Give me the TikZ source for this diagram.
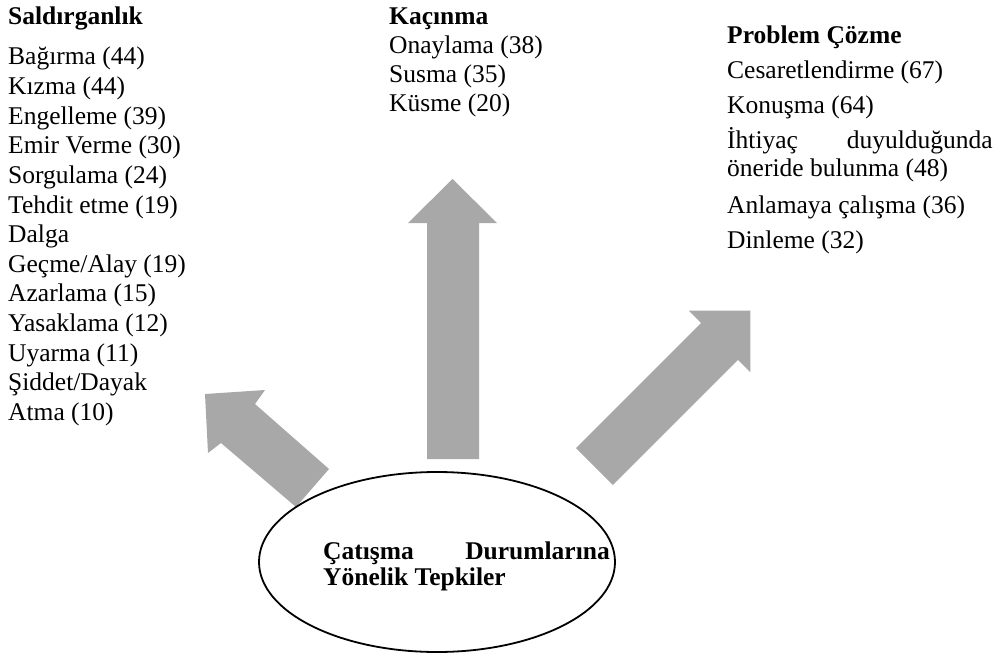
\documentclass[tikz,border=0pt]{standalone}
\usepackage{fontspec}
\setmainfont{Liberation Serif}
\usetikzlibrary{shapes.geometric}
\definecolor{arrowgray}{RGB}{168,168,168}
\tikzset{
  txt/.style={anchor=base west, inner sep=0pt, font=\fontsize{25.5}{29}\selectfont},
  txtr/.style={anchor=base east, inner sep=0pt, font=\fontsize{25.5}{29}\selectfont},
  head/.style={txt, font=\fontsize{25.5}{29}\selectfont\bfseries},
  headr/.style={txtr, font=\fontsize{25.5}{29}\selectfont\bfseries},
  blockarrow/.style={fill=arrowgray, draw=none},
  centre/.style={draw=black, line width=1.8pt, ellipse, minimum width=356pt, minimum height=180pt, inner sep=0pt}
}
\begin{document}
\begin{tikzpicture}[x=1pt,y=-1pt]
\useasboundingbox (0,0) rectangle (996,658);
% left column
\node[head] (sH) at (8,25) {Saldırganlık};
\foreach \t [count=\i from 0] in {Bağırma (44),Kızma (44),Engelleme (39),Emir Verme (30),Sorgulama (24),Tehdit etme (19),Dalga,Geçme/Alay (19),Azarlama (15),Yasaklama (12),Uyarma (11),Şiddet/Dayak,Atma (10)}
  \node[txt] (s\i) at (8,{65+29.6*\i}) {\t};
% middle column
\node[head] (kH) at (389,25) {Kaçınma};
\node[txt] (k1) at (389,54) {Onaylama (38)};
\node[txt] (k2) at (389,83) {Susma (35)};
\node[txt] (k3) at (389,112) {Küsme (20)};
% right column
\node[head] (pH) at (727,44) {Problem Çözme};
\node[txt] (p1) at (727,79) {Cesaretlendirme (67)};
\node[txt] (p2) at (727,114) {Konuşma (64)};
\node[txt] (p3a) at (727,149) {İhtiyaç};
\node[txtr] (p3b) at (993,149) {duyulduğunda};
\node[txt] (p3c) at (727,176) {öneride bulunma (48)};
\node[txt] (p4) at (727,213) {Anlamaya çalışma (36)};
\node[txt] (p5) at (727,248) {Dinleme (32)};
% arrows
\fill[blockarrow] (452.5,179) -- (497,223) -- (479,223) -- (479,459) -- (427,459) -- (427,223) -- (408,223) -- cycle;
\fill[blockarrow] (205,394) -- (265,390) -- (255,404) -- (329,469) -- (296,507) -- (221,443) -- (208,453) -- cycle;
\fill[blockarrow] (750.4,310.6) -- (750.4,372.2) -- (738,359.8) -- (612.8,485) -- (576,448.2) -- (701.2,323) -- (688.8,310.6) -- cycle;
% centre
\node[centre] (c) at (437,562) {};
\node[head] (c1a) at (323,559) {Çatışma};
\node[headr] (c1b) at (610,559) {Durumlarına};
\node[head] (c2) at (323,585) {Yönelik Tepkiler};
\end{tikzpicture}
\end{document}
